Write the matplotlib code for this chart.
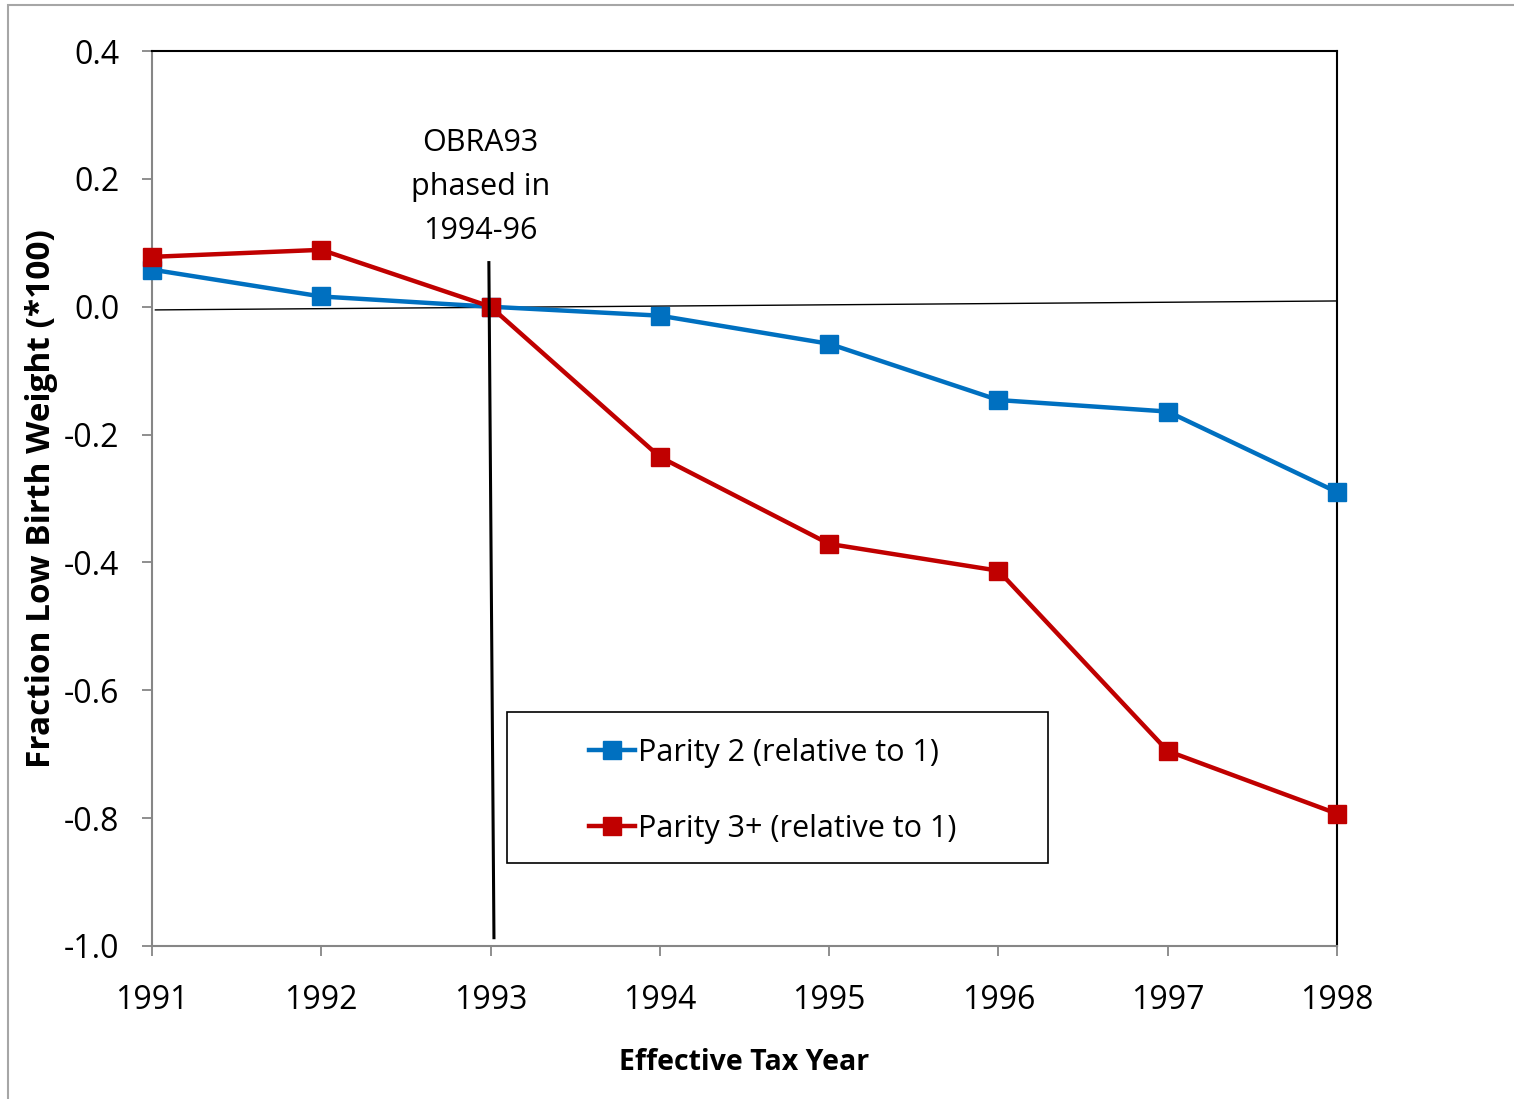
import matplotlib
matplotlib.use("Agg")
import matplotlib.pyplot as plt
from matplotlib.patches import Rectangle

plt.rcParams['font.family'] = ['Open Sans', 'DejaVu Sans']

years = [1991, 1992, 1993, 1994, 1995, 1996, 1997, 1998]
parity2 = [0.058, 0.016, 0.0, -0.014, -0.058, -0.146, -0.164, -0.290]
parity3 = [0.078, 0.089, 0.0, -0.235, -0.371, -0.413, -0.695, -0.793]
yticks = [0.4, 0.2, 0.0, -0.2, -0.4, -0.6, -0.8, -1.0]
ytick_labels = ["0.4", "0.2", "0.0", "-0.2", "-0.4", "-0.6", "-0.8", "-1.0"]
series_labels = ["Parity 2 (relative to 1)", "Parity 3+ (relative to 1)"]
note = "OBRA93\nphased in\n1994-96"

W, H = 1514, 1099
fig = plt.figure(figsize=(W / 100, H / 100), dpi=100)
ax_l, ax_r, ax_t, ax_b = 152, 1337, 51, 946
ax = fig.add_axes([ax_l / W, 1 - ax_b / H, (ax_r - ax_l) / W, (ax_b - ax_t) / H])

# outer chart frame
fig.patches.append(Rectangle((8 / W, -0.05), 1.2, 1 - 5 / H + 0.05,
                             transform=fig.transFigure, fill=False,
                             edgecolor='#a6a6a6', linewidth=1.5))

blue = '#0070C0'
red = '#C00000'

# reference lines: zero line and the policy marker
ax.plot([1991.02, 1998], [-0.005, 0.009], color='black', lw=1.0, zorder=2)
ax.plot([1992.99, 1993.02], [0.069, -0.987], color='black', lw=2.2, zorder=4)

l1, = ax.plot(years, parity2, color=blue, lw=3.2, marker='s', ms=12.5,
              label=series_labels[0], zorder=3, clip_on=False)
l2, = ax.plot(years, parity3, color=red, lw=3.2, marker='s', ms=12.5,
              label=series_labels[1], zorder=3, clip_on=False)

ax.set_xlim(1991, 1998)
ax.set_ylim(-1.0, 0.4)
ax.set_xticks(years)
ax.set_xticklabels([str(y) for y in years])
ax.set_yticks(yticks)
ax.set_yticklabels(ytick_labels)
ax.tick_params(axis='both', direction='out', length=7.5, width=1.3,
               color='#868686', labelsize=23)
ax.tick_params(axis='y', pad=16)
ax.tick_params(axis='x', pad=20)

for side in ['left', 'bottom']:
    ax.spines[side].set_color('#868686')
    ax.spines[side].set_linewidth(1.5)
for side in ['top', 'right']:
    ax.spines[side].set_color('black')
    ax.spines[side].set_linewidth(1.5)

ax.text(1992.94, 0.187, note, ha='center', va='center', fontsize=22,
        linespacing=1.6)

ax.set_xlabel("Effective Tax Year", fontsize=20.5, fontweight='bold', labelpad=22)
ax.set_ylabel("Fraction Low Birth Weight (*100)", fontsize=24,
              fontweight='bold', labelpad=4)

# legend box and entries
def ax_x(px):
    return (px - ax_l) / (ax_r - ax_l)

def ax_y(py):
    return (ax_b - py) / (ax_b - ax_t)

ax.add_patch(Rectangle((ax_x(507), ax_y(863)), ax_x(1048) - ax_x(507),
                       ax_y(712) - ax_y(863), transform=ax.transAxes,
                       facecolor='white', edgecolor='black', linewidth=1.2,
                       zorder=5, clip_on=False))
leg = ax.legend(handles=[l1, l2], loc='center left',
                bbox_to_anchor=(ax_x(589), ax_y(791)),
                fontsize=22, frameon=False, handlelength=1.5,
                handletextpad=0.12, labelspacing=1.5, borderpad=0,
                borderaxespad=0)
leg.set_zorder(6)

fig.savefig("out.png", dpi=100, facecolor='white')
